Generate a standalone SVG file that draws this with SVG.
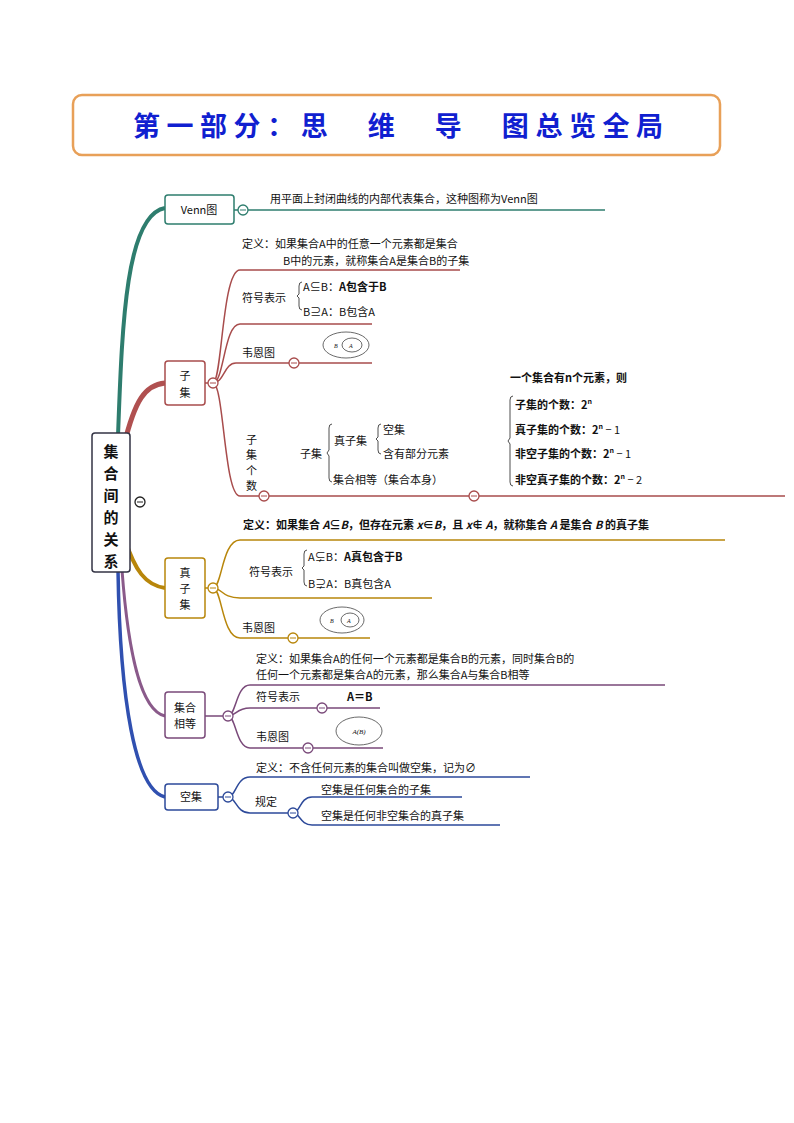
<svg xmlns="http://www.w3.org/2000/svg" width="794" height="1123" viewBox="0 0 794 1123">
<style>
text{font-family:"Noto Sans CJK SC","Liberation Sans",sans-serif;font-size:11px;fill:#111}
.b{font-weight:bold}
.c{fill:#fff;stroke-width:1.3}
.ln{fill:none;stroke-width:1.5}
.node{fill:#fff;stroke-width:1.5}
.r{font-size:15px;font-weight:bold}
</style>
<rect width="794" height="1123" fill="#fff"/>
<g id="title"><rect x="73" y="95" width="647" height="60" rx="9" fill="#fff" stroke="#e8a058" stroke-width="2.5"/>
<text x="133" y="136" textLength="530" lengthAdjust="spacing" style="font-size:27px;font-weight:bold;fill:#1020d0">第一部分：思　维　导　图总览全局</text></g>
<g id="connectors">
<path d="M118 436 C122 330 125 215 165 208" fill="none" stroke="#2e7d6e" stroke-width="4"/>
<path d="M124 445 C135 400 145 385 165 383" fill="none" stroke="#b05050" stroke-width="5"/>
<path d="M125 540 C135 570 145 585 165 588" fill="none" stroke="#b8860b" stroke-width="4"/>
<path d="M122 570 C128 650 140 710 165 716" fill="none" stroke="#8a5a8a" stroke-width="3"/>
<path d="M118 570 C120 700 135 790 165 797" fill="none" stroke="#3050b0" stroke-width="3.5"/>
<g stroke="#2e7d6e"><path class="ln" d="M234 210 H605"/></g>
<g stroke="#a84c4c" class="ln">
<path d="M205 383 H213 C222 383 222 270 240 270 H460"/>
<path d="M213 383 C224 383 224 324 240 324 H372"/>
<path d="M213 383 C224 383 224 363 236 363 H372"/>
<path d="M213 383 C224 383 224 496 240 496 H785"/>
</g>
<g stroke="#b8860b" class="ln">
<path d="M205 588 H213 C222 588 222 540 240 540 H725"/>
<path d="M213 588 C222 588 222 598 240 598 H432"/>
<path d="M213 588 C222 588 222 638 240 638 H370"/>
</g>
<g stroke="#7a4a7a" class="ln">
<path d="M205 716 H228 C236 716 236 685 250 685 H665"/>
<path d="M228 716 C236 716 236 708 250 708 H380"/>
<path d="M228 716 C236 716 236 748 250 748 H383"/>
</g>
<g stroke="#2d4a9a" class="ln">
<path d="M218 797 H228 C236 797 236 777 250 777 H530"/>
<path d="M228 797 C236 797 236 813 250 813 H293"/>
<path d="M293 813 C300 813 300 797 312 797 H462"/>
<path d="M293 813 C300 813 300 825 312 825 H500"/>
</g>
</g>
<g id="root"><rect x="92" y="433" width="38" height="139" rx="3" class="node" stroke="#334" stroke-width="3"/>
<text class="r" x="111" y="457" text-anchor="middle">集</text>
<text class="r" x="111" y="479" text-anchor="middle">合</text>
<text class="r" x="111" y="501" text-anchor="middle">间</text>
<text class="r" x="111" y="523" text-anchor="middle">的</text>
<text class="r" x="111" y="545" text-anchor="middle">关</text>
<text class="r" x="111" y="567" text-anchor="middle">系</text>
<circle class="c" cx="140" cy="502" r="5" stroke="#222"/><path d="M137 502h6" stroke="#222"/></g>
<g id="venn"><rect x="165" y="195" width="69" height="29" rx="3" class="node" stroke="#2e7d6e"/>
<text x="199" y="214" text-anchor="middle">Venn图</text>
<circle class="c" cx="243" cy="210" r="5" stroke="#2e7d6e"/><path d="M240 210h6" stroke="#2e7d6e"/>
<text x="270" y="203">用平面上封闭曲线的内部代表集合，这种图称为Venn图</text></g>
<g id="subset"><rect x="165" y="361" width="40" height="44" rx="3" class="node" stroke="#a84c4c"/>
<text x="185" y="380" text-anchor="middle">子</text><text x="185" y="397" text-anchor="middle">集</text>
<circle class="c" cx="213" cy="383" r="5" stroke="#a84c4c"/><path d="M210 383h6" stroke="#a84c4c"/>
<text x="242" y="248">定义：如果集合A中的任意一个元素都是集合</text>
<text x="283" y="265">B中的元素，就称集合A是集合B的子集</text>
<text x="242" y="302">符号表示</text>
<path d="M302 282 q-3 0 -3 4 v8 l-2 2 l2 2 v8 q0 4 3 4" fill="none" stroke="#222" stroke-width="0.8"/>
<text x="303" y="291">A⊆B：<tspan class="b">A包含于B</tspan></text>
<text x="303" y="316">B⊇A：B包含A</text>
<text x="242" y="357">韦恩图</text>
<circle class="c" cx="294" cy="363" r="5" stroke="#a84c4c"/><path d="M291 363h6" stroke="#a84c4c"/>
<ellipse cx="346" cy="345" rx="23" ry="13" fill="none" stroke="#444" stroke-width="0.8"/>
<ellipse cx="352" cy="345" rx="10" ry="7" fill="none" stroke="#444" stroke-width="0.8"/>
<text x="334" y="348" style="font-size:6px;font-style:italic;font-family:'Liberation Serif',serif">B</text>
<text x="349" y="348" style="font-size:6px;font-style:italic;font-family:'Liberation Serif',serif">A</text>
<text x="246" y="444">子</text><text x="246" y="459">集</text><text x="246" y="475">个</text><text x="246" y="490">数</text>
<circle class="c" cx="264" cy="496" r="5" stroke="#a84c4c"/><path d="M261 496h6" stroke="#a84c4c"/>
<circle class="c" cx="474" cy="496" r="5" stroke="#a84c4c"/><path d="M471 496h6" stroke="#a84c4c"/>
<text x="300" y="458">子集</text>
<path d="M332 424 q-3 0 -3 4 v22 l-2 3 l2 3 v22 q0 4 3 4" fill="none" stroke="#222" stroke-width="0.8"/>
<text x="334" y="445">真子集</text>
<path d="M381 424 q-3 0 -3 4 v9 l-2 2 l2 2 v9 q0 4 3 4" fill="none" stroke="#222" stroke-width="0.8"/>
<text x="383" y="434">空集</text><text x="383" y="458">含有部分元素</text>
<text x="333" y="484">集合相等（集合本身）</text>
<text class="b" x="510" y="382">一个集合有n个元素，则</text>
<path d="M513 396 q-3 0 -3 4 v38 l-2 3 l2 3 v38 q0 4 3 4" fill="none" stroke="#222" stroke-width="0.8"/>
<text class="b" x="515" y="409">子集的个数：2<tspan dy="-5" style="font-size:7px">n</tspan></text>
<text class="b" x="515" y="434">真子集的个数：2<tspan dy="-5" style="font-size:7px">n</tspan><tspan dy="5" font-weight="normal"> − 1</tspan></text>
<text class="b" x="515" y="458">非空子集的个数：2<tspan dy="-5" style="font-size:7px">n</tspan><tspan dy="5" font-weight="normal"> − 1</tspan></text>
<text class="b" x="515" y="484">非空真子集的个数：2<tspan dy="-5" style="font-size:7px">n</tspan><tspan dy="5" font-weight="normal"> − 2</tspan></text></g>
<g id="proper"><rect x="165" y="558" width="40" height="60" rx="3" class="node" stroke="#b8860b"/>
<text x="185" y="577" text-anchor="middle">真</text><text x="185" y="593" text-anchor="middle">子</text><text x="185" y="609" text-anchor="middle">集</text>
<circle class="c" cx="213" cy="588" r="5" stroke="#b8860b"/><path d="M210 588h6" stroke="#b8860b"/>
<text class="b" x="243" y="529">定义：如果集合 <tspan font-style="italic">A</tspan>⊆<tspan font-style="italic">B</tspan>，但存在元素 <tspan font-style="italic">x</tspan>∈<tspan font-style="italic">B</tspan>，且 <tspan font-style="italic">x</tspan>∉ <tspan font-style="italic">A</tspan>，就称集合 <tspan font-style="italic">A</tspan> 是集合 <tspan font-style="italic">B</tspan> 的真子集</text>
<text x="249" y="576">符号表示</text>
<path d="M307 550 q-3 0 -3 4 v12 l-2 2 l2 2 v12 q0 4 3 4" fill="none" stroke="#222" stroke-width="0.8"/>
<text x="308" y="561">A⊊B：<tspan class="b">A真包含于B</tspan></text>
<text x="308" y="588">B⊋A：B真包含A</text>
<text x="242" y="632">韦恩图</text>
<circle class="c" cx="293" cy="638" r="5" stroke="#b8860b"/><path d="M290 638h6" stroke="#b8860b"/>
<ellipse cx="342" cy="620" rx="22" ry="13" fill="none" stroke="#444" stroke-width="0.8"/>
<ellipse cx="350" cy="620" rx="9" ry="7" fill="none" stroke="#444" stroke-width="0.8"/>
<text x="330" y="623" style="font-size:6px;font-style:italic;font-family:'Liberation Serif',serif">B</text>
<text x="347" y="623" style="font-size:6px;font-style:italic;font-family:'Liberation Serif',serif">A</text></g>
<g id="equal"><rect x="165" y="692" width="40" height="46" rx="3" class="node" stroke="#7a4a7a"/>
<text x="185" y="712" text-anchor="middle">集合</text><text x="185" y="728" text-anchor="middle">相等</text>
<circle class="c" cx="228" cy="716" r="5" stroke="#7a4a7a"/><path d="M225 716h6" stroke="#7a4a7a"/>
<text x="256" y="663">定义：如果集合A的任何一个元素都是集合B的元素，同时集合B的</text>
<text x="256" y="679">任何一个元素都是集合A的元素，那么集合A与集合B相等</text>
<text x="256" y="701">符号表示</text><text class="b" x="347" y="701">A＝B</text>
<circle class="c" cx="322" cy="708" r="5" stroke="#7a4a7a"/><path d="M319 708h6" stroke="#7a4a7a"/>
<text x="256" y="741">韦恩图</text>
<circle class="c" cx="308" cy="748" r="5" stroke="#7a4a7a"/><path d="M305 748h6" stroke="#7a4a7a"/>
<ellipse cx="359" cy="731" rx="23" ry="14" fill="none" stroke="#444" stroke-width="0.8"/>
<text x="359" y="734" text-anchor="middle" style="font-size:7px;font-style:italic;font-family:'Liberation Serif',serif">A(B)</text></g>
<g id="empty"><rect x="165" y="784" width="53" height="26" rx="3" class="node" stroke="#2d4a9a"/>
<text x="191" y="801" text-anchor="middle">空集</text>
<circle class="c" cx="228" cy="797" r="5" stroke="#2d4a9a"/><path d="M225 797h6" stroke="#2d4a9a"/>
<text x="256" y="772">定义：不含任何元素的集合叫做空集，记为∅</text>
<text x="255" y="806">规定</text>
<circle class="c" cx="293" cy="813" r="5" stroke="#2d4a9a"/><path d="M290 813h6" stroke="#2d4a9a"/>
<text x="321" y="794">空集是任何集合的子集</text>
<text x="321" y="820">空集是任何非空集合的真子集</text></g>
</svg>
